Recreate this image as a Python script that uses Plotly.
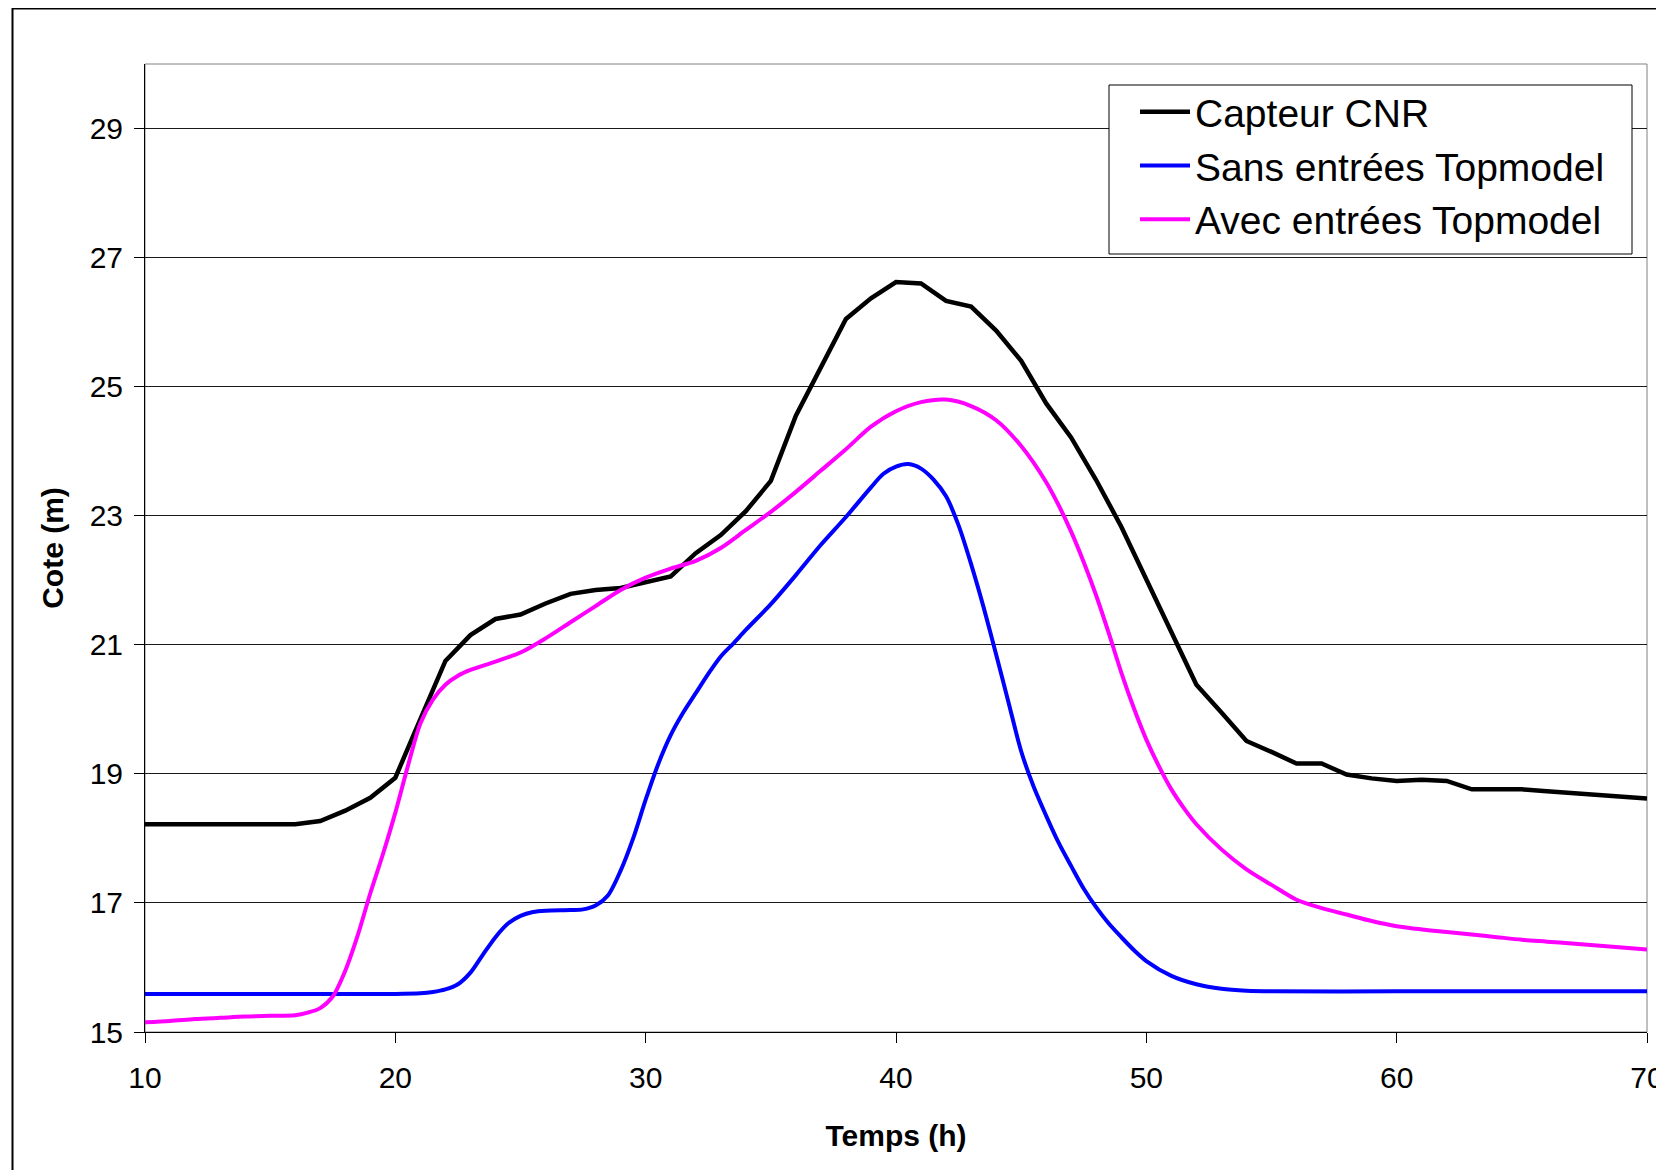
import plotly.graph_objects as go

# ---- data ----
capteur_t = list(range(10, 71))
capteur_z = [18.22, 18.22, 18.22, 18.22, 18.22, 18.22, 18.22, 18.27, 18.43, 18.63,
             18.94, 19.85, 20.75, 21.15, 21.40, 21.47, 21.64, 21.79, 21.85, 21.88,
             21.97, 22.06, 22.42, 22.70, 23.07, 23.54, 24.55, 25.30, 26.05, 26.37,
             26.62, 26.60, 26.33, 26.24, 25.87, 25.40, 24.74, 24.21, 23.55, 22.83,
             22.02, 21.20, 20.38, 19.95, 19.51, 19.34, 19.16, 19.16, 18.99, 18.93,
             18.89, 18.91, 18.89, 18.76, 18.76, 18.76, 18.73, 18.70, 18.67, 18.64,
             18.62]

sans_t = [10, 15, 20, 21, 21.5, 22, 22.5, 23, 23.5, 24, 24.5, 25, 25.5, 26, 27, 27.5,
          28, 28.5, 29, 29.5, 30, 30.5, 31, 31.5, 32, 32.5, 33, 33.5, 34, 35, 36, 37,
          38, 39, 39.5, 40, 40.5, 41, 41.5, 42, 42.5, 43, 43.5, 44, 44.5, 45, 45.5,
          46, 46.5, 47, 47.5, 48, 48.5, 49, 49.5, 50, 51, 52, 53, 54, 55, 60, 65, 70]
sans_z = [15.59, 15.59, 15.59, 15.60, 15.62, 15.66, 15.74, 15.92, 16.20, 16.47, 16.68,
          16.80, 16.86, 16.88, 16.89, 16.90, 16.96, 17.12, 17.50, 18.00, 18.60, 19.15,
          19.60, 19.95, 20.25, 20.55, 20.82, 21.02, 21.23, 21.63, 22.08, 22.55, 22.98,
          23.44, 23.65, 23.76, 23.80, 23.73, 23.56, 23.30, 22.85, 22.25, 21.58, 20.85,
          20.10, 19.35, 18.80, 18.35, 17.93, 17.57, 17.22, 16.93, 16.68, 16.47, 16.27,
          16.10, 15.87, 15.74, 15.67, 15.64, 15.63, 15.63, 15.63, 15.63]

avec_t = [10, 11, 12, 13, 14, 15, 16, 16.5, 17, 17.5, 18, 18.5, 19, 19.5, 20, 20.5,
          21, 21.5, 22, 22.5, 23, 24, 25, 26, 27, 28, 29, 30, 31, 32, 33, 34, 35, 36,
          37, 38, 39, 40, 41, 42, 43, 44, 45, 46, 46.5, 47, 47.5, 48, 48.5, 49, 49.5,
          50, 50.5, 51, 51.5, 52, 53, 54, 55, 56, 57, 58, 59, 60, 61, 62, 63, 64, 65,
          66, 67, 68, 69, 70]
avec_z = [15.15, 15.17, 15.20, 15.22, 15.24, 15.25, 15.26, 15.30, 15.37, 15.55, 15.95,
          16.50, 17.15, 17.75, 18.40, 19.12, 19.78, 20.15, 20.38, 20.52, 20.61, 20.74,
          20.88, 21.10, 21.35, 21.60, 21.85, 22.04, 22.18, 22.30, 22.50, 22.78, 23.06,
          23.37, 23.70, 24.03, 24.38, 24.62, 24.76, 24.80, 24.70, 24.48, 24.08, 23.52,
          23.16, 22.75, 22.28, 21.76, 21.18, 20.57, 20.02, 19.53, 19.12, 18.76, 18.47,
          18.22, 17.83, 17.52, 17.28, 17.05, 16.92, 16.82, 16.72, 16.64, 16.59, 16.55,
          16.51, 16.47, 16.43, 16.40, 16.37, 16.34, 16.31, 16.28]

x_ticks = [10, 20, 30, 40, 50, 60, 70]
y_ticks = [15, 17, 19, 21, 23, 25, 27, 29]

FONT = "Liberation Sans, Arial, sans-serif"

fig = go.Figure()
fig.add_trace(go.Scatter(x=capteur_t, y=capteur_z, mode="lines", name="Capteur CNR",
                         line=dict(color="#000000", width=4.5), legendgroup="a"))
fig.add_trace(go.Scatter(x=sans_t, y=sans_z, mode="lines", name="Sans entrées Topmodel",
                         line=dict(color="#0000FF", width=4, shape="spline", smoothing=0.8),
                         legendgroup="b"))
fig.add_trace(go.Scatter(x=avec_t, y=avec_z, mode="lines", name="Avec entrées Topmodel",
                         line=dict(color="#FF00FF", width=4, shape="spline", smoothing=0.8),
                         legendgroup="c"))

# page body adds an 8 px margin, so layout pixels = screenshot pixels - 8
W, H = 1664, 1170
L, R, T, B = 137, 1639, 56, 1024


def px(x):
    return (x - L) / (R - L)


def py(y):
    return (B - y) / (B - T)


fig.update_layout(
    width=W, height=H,
    margin=dict(l=L, r=W - R, t=T, b=H - B, autoexpand=False),
    paper_bgcolor="white", plot_bgcolor="white",
    font=dict(family=FONT, color="black", size=30),
    showlegend=True,
    legend=dict(
        x=px(1127), y=py(72), xanchor="left", yanchor="top",
        bgcolor="rgba(0,0,0,0)", borderwidth=0,
        font=dict(family=FONT, size=39, color="black"),
        itemwidth=50, tracegroupgap=6, traceorder="normal",
    ),
    xaxis=dict(
        range=[10, 70], tickmode="array", tickvals=x_ticks,
        ticks="outside", ticklen=10, tickcolor="black", tickwidth=1,
        showline=True, linecolor="black", linewidth=1, showgrid=False, zeroline=False,
        tickfont=dict(size=30), ticklabelstandoff=9,
        title=dict(text="<b>Temps (h)</b>", font=dict(size=30), standoff=31),
    ),
    yaxis=dict(
        range=[15, 30], tickmode="array", tickvals=y_ticks,
        ticks="outside", ticklen=10, tickcolor="black", tickwidth=1,
        showline=True, linecolor="black", linewidth=1,
        showgrid=True, gridcolor="#1a1a1a", gridwidth=1, zeroline=False,
        tickfont=dict(size=30), ticklabelstandoff=5,
        title=dict(text="<b>Cote (m)</b>", font=dict(size=30), standoff=17),
    ),
)

# plot-area border (grey, Excel style)
fig.add_shape(type="rect", xref="paper", yref="paper", x0=0, x1=1, y0=0, y1=1,
              line=dict(color="#808080", width=1), layer="below")
# legend frame
fig.add_shape(type="rect", xref="paper", yref="paper",
              x0=px(1101), x1=px(1624), y0=py(246), y1=py(77),
              line=dict(color="black", width=1), fillcolor="white", layer="above")
# outer chart frame (extends past the right/bottom edges of the picture)
fig.add_shape(type="rect", xref="paper", yref="paper",
              x0=px(4.5), x1=px(1680), y0=py(1190), y1=py(0.5),
              line=dict(color="black", width=2))

fig.write_html("out.html")
